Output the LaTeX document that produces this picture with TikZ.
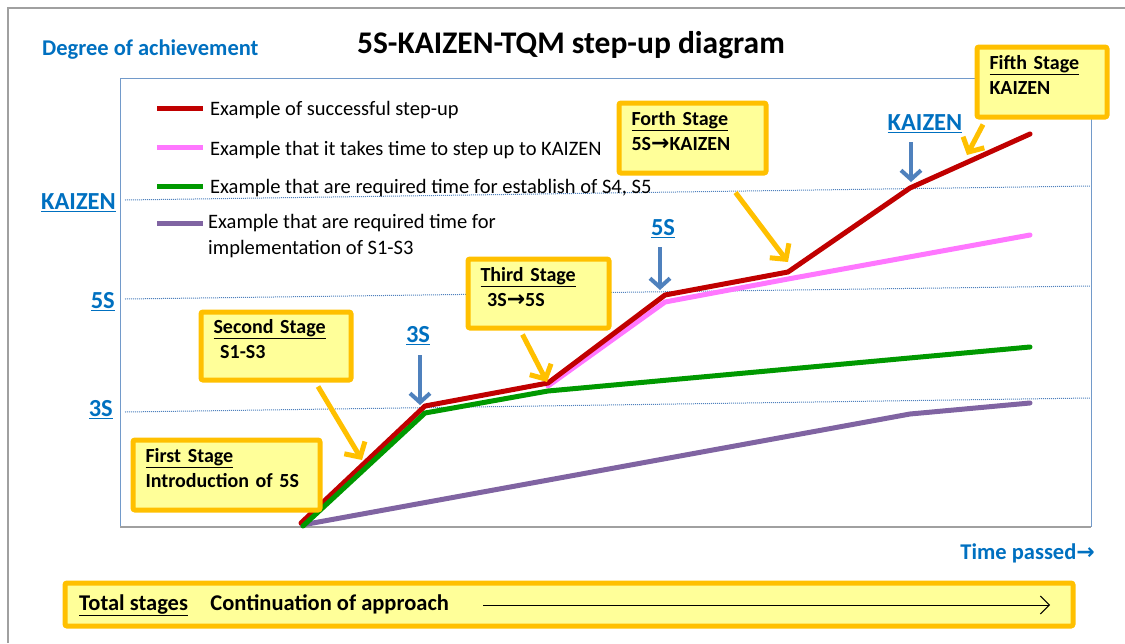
\documentclass[tikz,border=0pt]{standalone}
\usepackage{fontspec}
\setmainfont{Carlito}
\newfontfamily\arrowfont{DejaVu Sans}
\usetikzlibrary{arrows.meta,calc}
\definecolor{stageyellow}{HTML}{FFFF99}
\definecolor{stageorange}{HTML}{FFC000}
\definecolor{labelblue}{HTML}{0070C0}
\definecolor{gridblue}{HTML}{4F81BD}
\definecolor{lineRed}{HTML}{C00000}
\definecolor{linePink}{HTML}{FF77FF}
\definecolor{lineGreen}{HTML}{009900}
\definecolor{linePurple}{HTML}{8064A2}
\definecolor{frameGray}{HTML}{A0A0A0}
\newcommand{\rarr}{{\arrowfont\bfseries\fontsize{22}{22}\selectfont →}}
% extra depth on the last line lifts the two-line text inside a call-out
\newcommand{\lowpad}{\rule[-14pt]{0pt}{14pt}}
\tikzset{
  stagebox/.style={draw=stageorange, line width=5pt, fill=stageyellow, rounded corners=2pt,
    align=left, inner xsep=12.5pt, anchor=north west,
    font=\bfseries\fontsize{20}{25}\selectfont},
  yarrow/.style={draw=stageorange, line width=5pt, -{Straight Barb[length=11pt,width=24pt]}},
  barrow/.style={draw=gridblue, line width=4pt, -{Straight Barb[length=9pt,width=20pt]}},
  levelline/.style={draw=gridblue, densely dotted, line width=1pt},
  levellabel/.style={text=labelblue, font=\bfseries\fontsize{24.5}{28}\selectfont, inner sep=0pt},
  legendtext/.style={font=\fontsize{20.5}{26}\selectfont, anchor=west, align=left, inner sep=0pt},
  dataline/.style={line width=5pt, line join=round, line cap=round},
}
\begin{document}
\begin{tikzpicture}[x=1pt,y=-1pt]
\useasboundingbox (0,0) rectangle (1125,643);
% outer frame
\draw[frameGray, line width=1.5pt] (8,643) -- (8,8) -- (1125,8);

% headings
\node[text=labelblue, font=\bfseries\fontsize{22.5}{26}\selectfont, anchor=west, inner sep=0pt] (yaxis) at (42,50) {Degree of achievement};
\node[font=\bfseries\fontsize{31.5}{36}\selectfont, inner sep=0pt] (title) at (571,45) {5S-KAIZEN-TQM step-up diagram};

% plot area
\draw[gridblue!80, line width=1pt] (120,527) -- (120,78) -- (1091,78) -- (1091,527);
\draw[frameGray, line width=1.5pt] (120,527) -- (1091,527);

% achievement levels
\draw[levelline] (125,200) -- (1090,186);
\draw[levelline] (125,299) -- (1090,286);
\draw[levelline] (125,412) -- (1090,398);
\node[levellabel, anchor=east] (lvK) at (116,203) {\underline{KAIZEN}};
\node[levellabel, anchor=east] (lv5) at (115,302) {\underline{5S}};
\node[levellabel, anchor=east] (lv3) at (113,410) {\underline{3S}};

% legend
\draw[lineRed, line width=5pt] (157,108) -- (203,108);
\draw[linePink, line width=5pt] (157,147) -- (203,147);
\draw[lineGreen, line width=5pt] (157,186) -- (203,186);
\draw[linePurple, line width=5pt] (157,223) -- (203,223);
\node[legendtext] (lg1) at (210,110) {Example of successful step-up};
\node[legendtext] (lg2) at (210,150) {Example that it takes time to step up to KAIZEN};
\node[legendtext] (lg3) at (210,188) {Example that are required time for establish of S4, S5};
\node[legendtext, anchor=north west] (lg4) at (208,214) {Example that are required time for\\implementation of S1-S3};

% data series
\draw[dataline, linePurple] (302,525) -- (910,414) -- (1030,403);
\draw[dataline, linePink] (548,386) -- (665,302) -- (788,279) -- (1030,235);
\draw[dataline, lineRed] (301,523) -- (425,406) -- (548,383) -- (665,295) -- (788,272) -- (910,188) -- (1030,134);
\draw[dataline, lineGreen] (303,526) -- (425,413) -- (548,391) -- (1030,347);

% level markers
\node[levellabel] (m3) at (418,336) {\underline{3S}};
\node[levellabel] (m5) at (663,229) {\underline{5S}};
\node[levellabel] (mK) at (925,124) {\underline{KAIZEN}};
\coordinate (p3) at (420,405);
\coordinate (p5) at (660,290);
\coordinate (pK) at (911,182);
\draw[barrow] (420,355) -- (p3);
\draw[barrow] (660,247) -- (p5);
\draw[barrow] (911,142) -- (pK);

% stage call-outs
\node[stagebox, text width=162pt, minimum height=70pt] (s1) at (130.5,437.5) {\underline{First Stage}\\Introduction of 5S\lowpad};
\node[stagebox, text width=125pt, minimum height=68pt] (s2) at (198.5,309.5) {\underline{Second Stage}\\\ S1-S3\lowpad};
\node[stagebox, text width=116pt, minimum height=69pt] (s3) at (465.5,256.5) {\underline{Third Stage}\\\ 3S\rarr5S\lowpad};
\node[stagebox, text width=122pt, minimum height=70pt] (s4) at (616.5,100.5) {\underline{Forth Stage}\\5S\rarr KAIZEN\lowpad};
\node[stagebox, text width=105pt, minimum height=70pt] (s5) at (974.5,44.5) {\underline{Fifth Stage}\\KAIZEN\lowpad};

\coordinate (t2) at (362,460);
\coordinate (t3) at (547,382);
\coordinate (t4) at (788,262);
\coordinate (t5) at (967,155);
\draw[yarrow] ($(s2.south)+(42,4)$) -- (t2);
\draw[yarrow] ($(s3.south)+(-16,4)$) -- (t3);
\draw[yarrow] ($(s4.south)+(43,17)$) -- (t4);
\draw[yarrow] ($(s5.south)+(-59,5)$) -- (t5);

% time axis
\node[text=labelblue, font=\bfseries\fontsize{22.5}{26}\selectfont, anchor=east, inner sep=0pt] (xaxis) at (1095,553) {Time passed\rarr};

% overall stage bar
\node[stagebox, text width=983pt, minimum height=43pt] (total) at (62.5,580.5) {};
\node[font=\bfseries\fontsize{22.5}{26}\selectfont, anchor=west, inner sep=0pt] (totaltext) at (79,605) {\underline{Total stages}\quad Continuation of approach};
\coordinate (tend) at (1050,605);
\draw[line width=1pt, -{Straight Barb[length=9pt,width=18pt]}] ($(totaltext.east)+(34,0)$) -- (tend);
\end{tikzpicture}
\end{document}
